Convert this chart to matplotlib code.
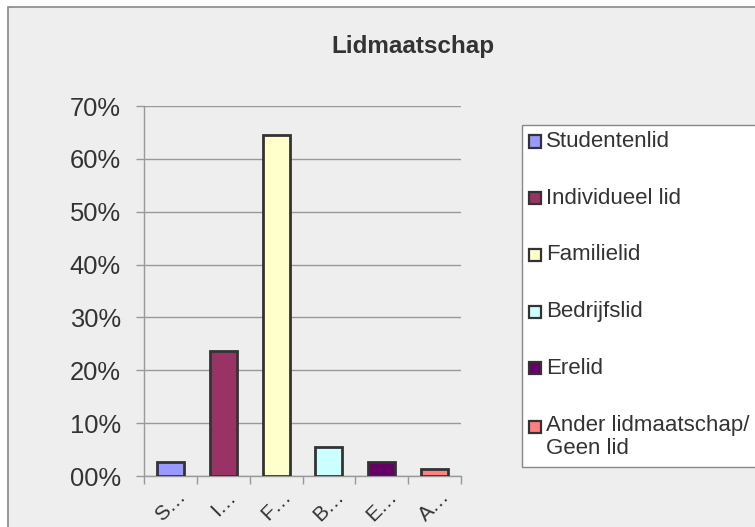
from matplotlib import pyplot as plt
from matplotlib.patches import Rectangle
import numpy as np

W, H = 755, 527

categories = ["Studentenlid", "Individueel lid", "Familielid", "Bedrijfslid", "Erelid",
              "Ander lidmaatschap/\nGeen lid"]
short_labels = ["S\u2026", "I\u2026", "F\u2026", "B\u2026", "E\u2026", "A\u2026"]
values = [2.6, 23.7, 64.6, 5.4, 2.6, 1.4]
colors = ["#9999ff", "#993366", "#ffffcc", "#ccffff", "#660066", "#ff8080"]
y_ticks = [0, 10, 20, 30, 40, 50, 60, 70]

txt = "#333333"
grid = "#999999"
bg = "#eeeeee"


def fx(px):
    return px / W


def fy(py):
    return 1 - py / H


plt.rcParams['font.family'] = ['Liberation Sans', 'DejaVu Sans']

fig = plt.figure(figsize=(W / 100, H / 100), dpi=100, facecolor="white")

# outer chart border (right/bottom cut off)
fig.patches.append(Rectangle((fx(8), -0.1), 1.2, fy(7) + 0.1, transform=fig.transFigure,
                             facecolor=bg, edgecolor="#888888", linewidth=1.2, zorder=0))

ax = fig.add_axes([fx(144), fy(476), fx(461) - fx(144), fy(106) - fy(476)])
ax.set_zorder(2)
ax.patch.set_alpha(0)

x = np.arange(len(values))
ax.bar(x, values, width=0.51, color=colors, edgecolor="#333333", linewidth=2, zorder=3)

ax.set_xlim(-0.5, len(values) - 0.5)
ax.set_ylim(0, 70)
ax.set_yticks(y_ticks)
ax.set_yticklabels([f"{v:02d}%" for v in y_ticks], fontsize=18.4, color=txt)
ax.tick_params(axis="y", length=5.8, width=1, color=grid, pad=11)
ax.yaxis.grid(True, color=grid, linewidth=1)
ax.set_axisbelow(True)

ax.set_xticks(x)
ax.set_xticklabels(short_labels, fontsize=15, color=txt, rotation=45, ha="center")
ax.tick_params(axis="x", which="major", length=0, pad=8)
ax.set_xticks(np.arange(-0.5, len(values)), minor=True)
ax.tick_params(axis="x", which="minor", length=5.8, width=1, color=grid)

for s in ["top", "right"]:
    ax.spines[s].set_visible(False)
for s in ["left", "bottom"]:
    ax.spines[s].set_color(grid)
    ax.spines[s].set_linewidth(1)

fig.text(fx(413), fy(53.3), "Lidmaatschap", fontsize=17.5, fontweight="bold", color=txt,
         ha="center", va="baseline")

# legend box
fig.patches.append(Rectangle((fx(521.5), fy(466.5)), 1.0, fy(125) - fy(466.5),
                             transform=fig.transFigure, facecolor="white",
                             edgecolor="#888888", linewidth=1, zorder=1))
centers = [141.5, 198, 255, 311.5, 368.3, 426.7]
for c, col, lab in zip(centers, colors, categories):
    fig.patches.append(Rectangle((fx(529), fy(c + 6)), fx(541) - fx(529), fy(c - 6) - fy(c + 6),
                                 transform=fig.transFigure, facecolor=col,
                                 edgecolor="#333333", linewidth=1.6, zorder=2))
    va = "center" if "\n" not in lab else "top"
    ypos = fy(c) if va == "center" else fy(c - 12)
    fig.text(fx(546), ypos, lab, fontsize=16, color=txt, ha="left", va=va,
             linespacing=1.13, zorder=3)

plt.savefig("out.png", dpi=100, facecolor=fig.get_facecolor())
plt.close()
